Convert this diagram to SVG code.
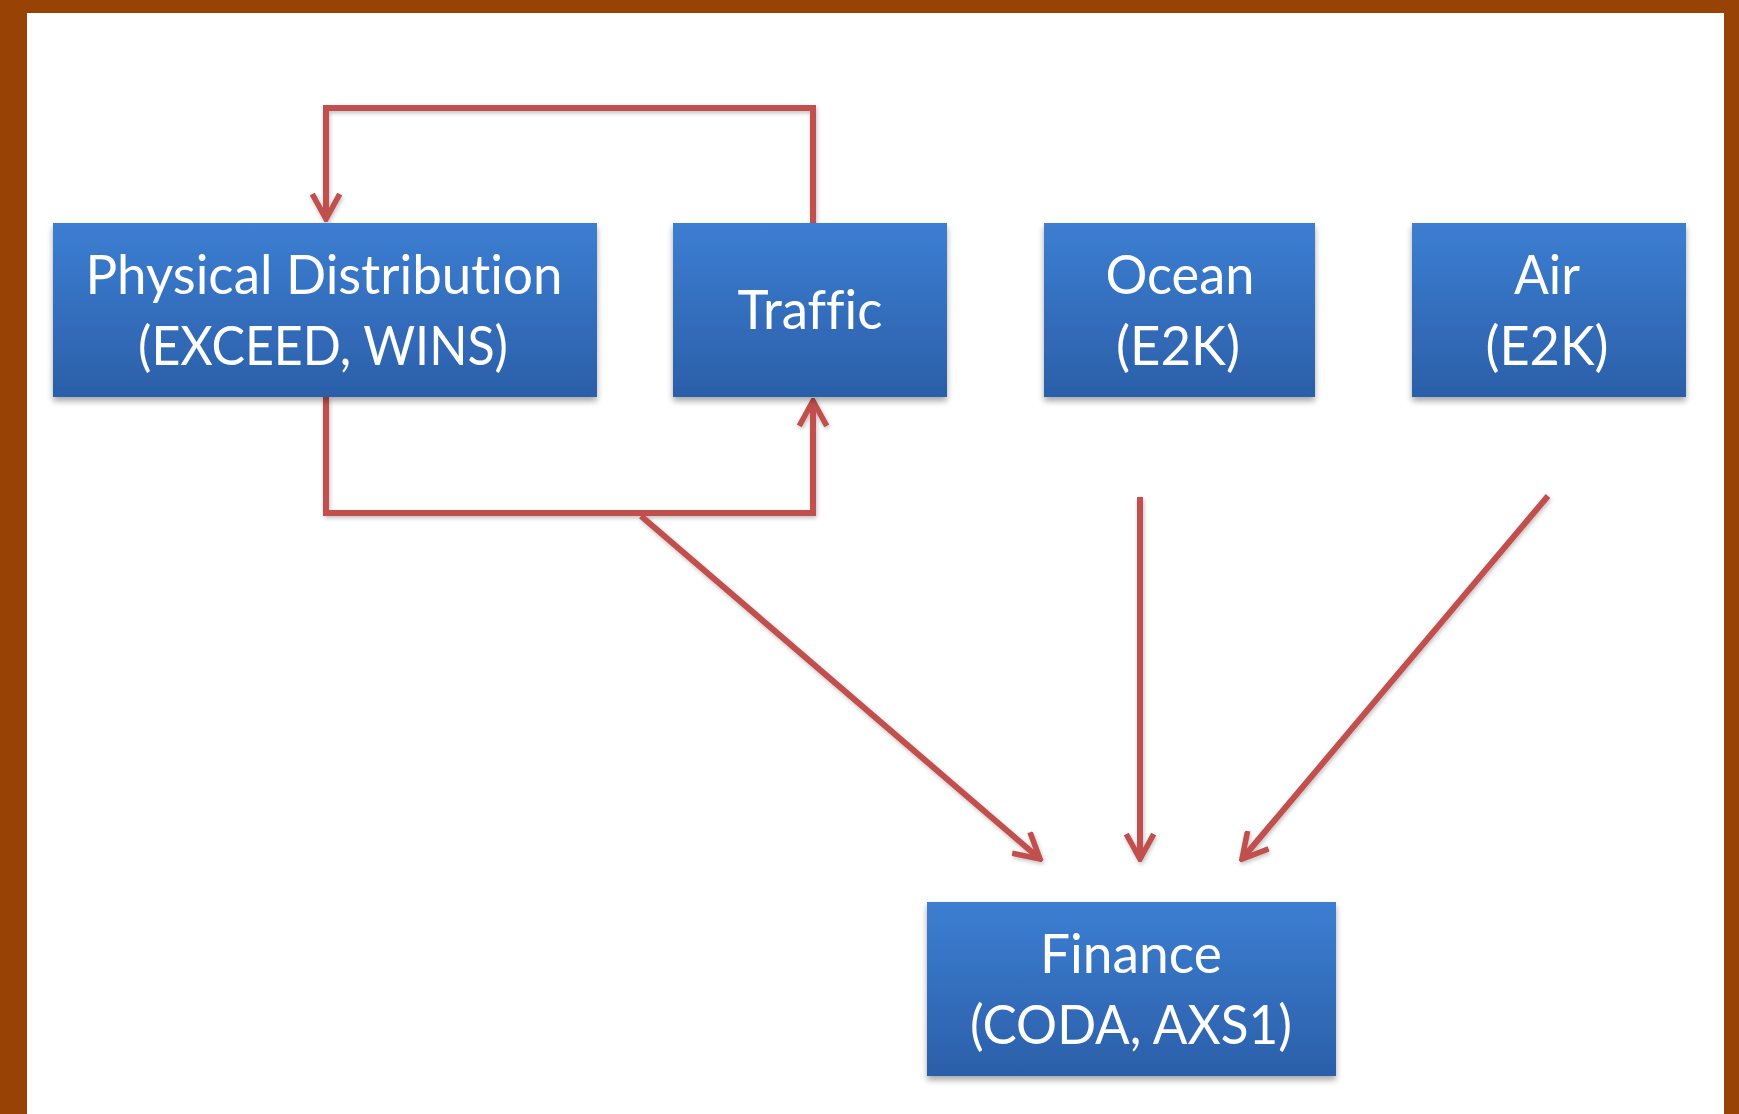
<svg xmlns="http://www.w3.org/2000/svg" width="1739" height="1114" viewBox="0 0 1739 1114">
<style>
.box{fill:url(#blue);filter:url(#sh);}
.t{font-family:"Lato","Open Sans","Liberation Sans",sans-serif;font-size:54px;fill:#ffffff;text-anchor:middle;font-variant-ligatures:none;font-feature-settings:"liga" 0;}
.c{fill:none;stroke:#C0504D;stroke-width:6;stroke-linejoin:miter;}
</style>
<defs>
<linearGradient id="blue" x1="0" y1="0" x2="0" y2="1">
<stop offset="0" stop-color="#3C7ED2"/>
<stop offset="1" stop-color="#2B5FA9"/>
</linearGradient>
<filter id="sh" x="-5%" y="-5%" width="110%" height="125%">
<feGaussianBlur in="SourceAlpha" stdDeviation="3"/>
<feOffset dy="4"/>
<feComponentTransfer><feFuncA type="linear" slope="0.35"/></feComponentTransfer>
<feMerge><feMergeNode/><feMergeNode in="SourceGraphic"/></feMerge>
</filter>
<filter id="lsh" filterUnits="userSpaceOnUse" x="0" y="0" width="1739" height="1114">
<feGaussianBlur in="SourceAlpha" stdDeviation="2"/>
<feOffset dx="1" dy="2"/>
<feComponentTransfer><feFuncA type="linear" slope="0.25"/></feComponentTransfer>
<feMerge><feMergeNode/><feMergeNode in="SourceGraphic"/></feMerge>
</filter>
<marker id="arr" viewBox="0 0 10 10" refX="9" refY="5" markerWidth="5.2" markerHeight="5.2" orient="auto" markerUnits="strokeWidth">
<path d="M1,0.6 L9,5 L1,9.4" fill="none" stroke="#C0504D" stroke-width="1.8" stroke-linejoin="miter"/>
</marker>
</defs>
<rect x="0" y="0" width="1739" height="1114" fill="#ffffff"/>
<rect x="0" y="0" width="1739" height="13" fill="#984205"/>
<rect x="0" y="0" width="27" height="1114" fill="#984205"/>
<rect x="1724" y="0" width="15" height="1114" fill="#984205"/>

<g id="connectors" filter="url(#lsh)">
<path class="c" d="M813,223 L813,108 L326,108 L326,219" marker-end="url(#arr)"/>
<path class="c" d="M326,397 L326,513 L813,513 L813,401" marker-end="url(#arr)"/>
<path class="c" d="M641,516 L1040,859" marker-end="url(#arr)"/>
<path class="c" d="M1140,497 L1140,859" marker-end="url(#arr)"/>
<path class="c" d="M1548,496 L1242,859" marker-end="url(#arr)"/>
</g>

<g id="physical-distribution">
<rect class="box" x="53" y="223" width="544" height="174"/>
<text class="t" x="324" y="294" textLength="477" lengthAdjust="spacingAndGlyphs">Physical Distribution</text>
<text class="t" x="323" y="365" textLength="370" lengthAdjust="spacingAndGlyphs">(EXCEED, WINS)</text>
</g>

<g id="traffic">
<rect class="box" x="673" y="223" width="274" height="174"/>
<text class="t" x="810" y="329" textLength="145" lengthAdjust="spacingAndGlyphs">Traffic</text>
</g>

<g id="ocean">
<rect class="box" x="1044" y="223" width="271" height="174"/>
<text class="t" x="1180" y="294" textLength="149" lengthAdjust="spacingAndGlyphs">Ocean</text>
<text class="t" x="1178" y="365" textLength="124" lengthAdjust="spacingAndGlyphs">(E2K)</text>
</g>

<g id="air">
<rect class="box" x="1412" y="223" width="274" height="174"/>
<text class="t" x="1547" y="294" textLength="66" lengthAdjust="spacingAndGlyphs">Air</text>
<text class="t" x="1547" y="365" textLength="123" lengthAdjust="spacingAndGlyphs">(E2K)</text>
</g>

<g id="finance">
<rect class="box" x="927" y="902" width="409" height="174"/>
<text class="t" x="1131" y="973" textLength="182" lengthAdjust="spacingAndGlyphs">Finance</text>
<text class="t" x="1131" y="1044" textLength="322" lengthAdjust="spacingAndGlyphs">(CODA, AXS1)</text>
</g>
</svg>
